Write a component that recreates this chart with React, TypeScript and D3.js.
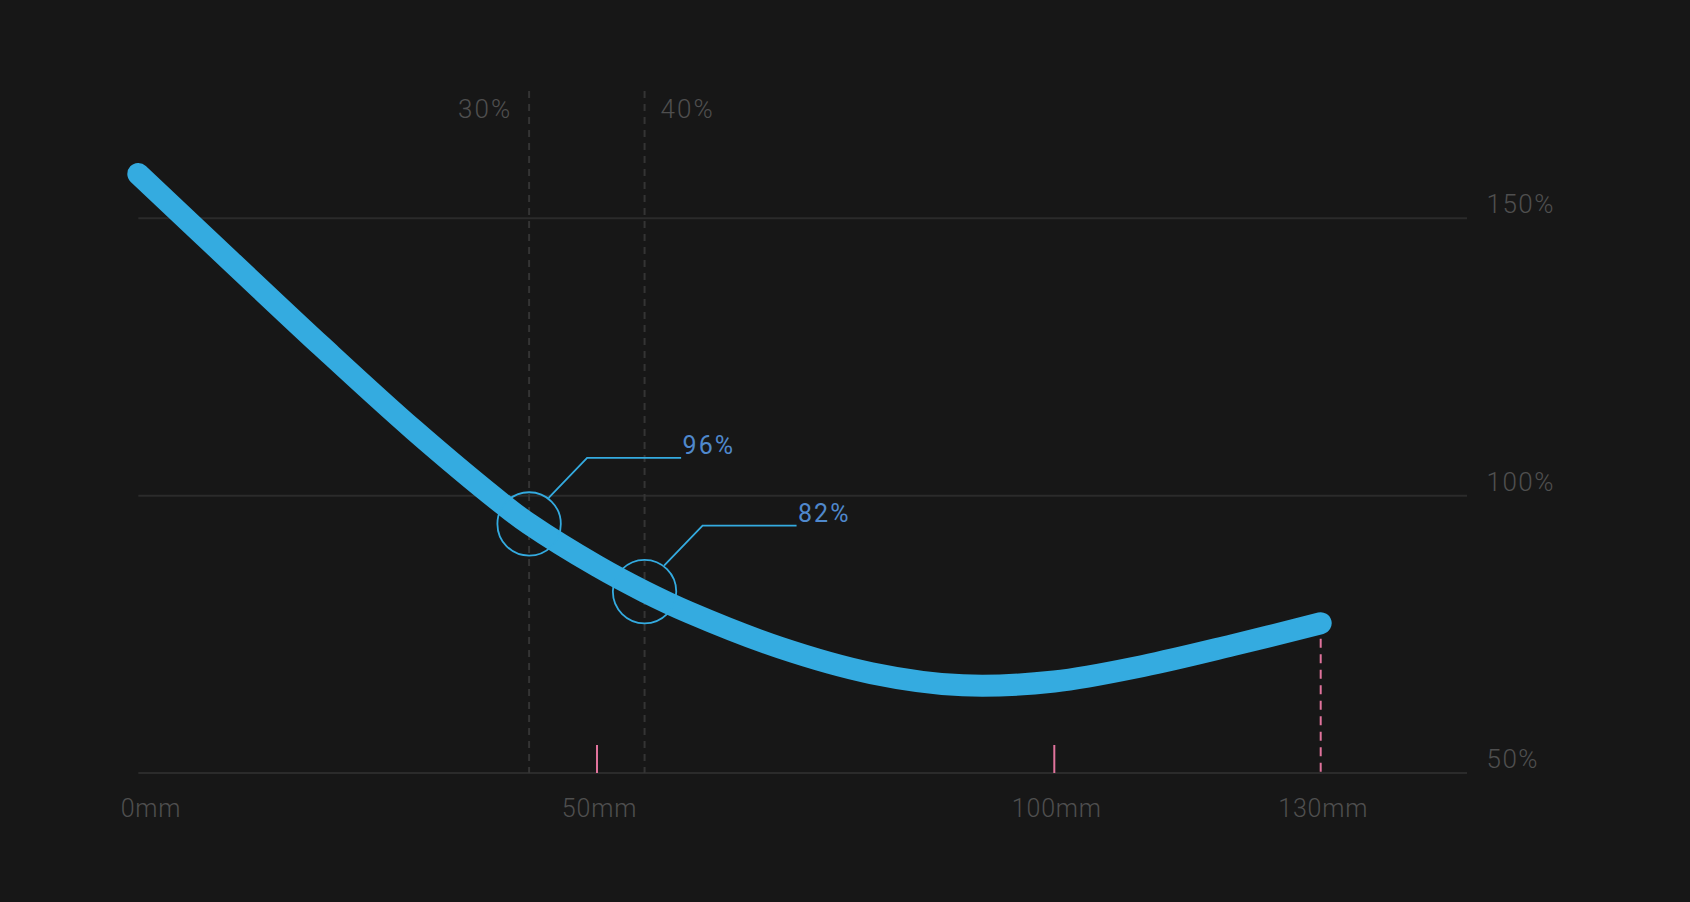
import React from "react";
import * as d3 from "d3";

// ---- data ----
const xTicks = [0, 50, 100, 130];
const xTickLabels = ["0mm", "50mm", "100mm", "130mm"];
const yTicks = [50, 100, 150];
const yTickLabels = ["50%", "100%", "150%"];
const distanceMm = [0, 10, 20, 30, 40, 42.6, 50, 55.2, 60, 70, 80, 90, 100, 110, 120, 130];
const ratioPct = [158.0, 142.4, 126.9, 111.9, 98.1, 94.9, 87.3, 82.7, 79.0, 72.6, 68.0, 65.8, 66.5, 69.3, 73.0, 77.0];
const markerMm = [42.6, 55.2];
const markerLabels = ["30%", "40%"];
const calloutLabels = ["96%", "82%"];
const pinkTickMm = [50, 100];
const endMm = 130;

const W = 1690;
const H = 902;
const plotLeft = 138.3;
const plotRight = 1467;

const BG = "#171717";
const GRID = "#2b2b2b";
const TXT = "#4f4f4f";
const BLUE = "#34abe0";
const LABEL_BLUE = "#4f88cc";
const PINK = "#e0739c";
const FONT = "Roboto, 'Open Sans', sans-serif";

export default function App() {
  const x = d3.scaleLinear().domain([0, 50, 100, 130]).range([plotLeft, 597, 1054.3, 1320.7]);
  const y = d3.scaleLinear().domain([50, 150]).range([773, 218.3]);

  const pts = distanceMm.map((d, i) => [d, ratioPct[i]] as [number, number]);
  const line = d3
    .line<[number, number]>()
    .x((d) => x(d[0]))
    .y((d) => y(d[1]))
    .curve(d3.curveCatmullRom.alpha(0.5));

  const valueAt = (mm: number) => {
    const i = distanceMm.indexOf(mm);
    return ratioPct[i];
  };

  const endY = y(valueAt(endMm));
  const r = 31.7;

  return (
    <svg
      width={W}
      height={H}
      style={{ position: "absolute", left: 0, top: 0, display: "block" }}
    >
      <rect x={0} y={0} width={W} height={H} fill={BG} />

      {/* horizontal grid */}
      {yTicks.map((t, i) => (
        <g key={"y" + t}>
          <line x1={plotLeft} x2={plotRight} y1={y(t)} y2={y(t)} stroke={GRID} strokeWidth={2} />
          <text
            x={1486.5}
            y={y(t) - 5}
            fill={TXT}
            fontFamily={FONT}
            fontWeight={300}
            fontSize={26}
            letterSpacing={1.5}
          >
            {yTickLabels[i]}
          </text>
        </g>
      ))}

      {/* vertical dashed markers */}
      {markerMm.map((m, i) => (
        <g key={"m" + m}>
          <line
            x1={x(m)}
            x2={x(m)}
            y1={91}
            y2={y(50)}
            stroke="#343434"
            strokeWidth={2}
            strokeDasharray="7,6"
          />
          <text
            x={i === 0 ? x(m) - 17 : x(m) + 16}
            y={118.3}
            textAnchor={i === 0 ? "end" : "start"}
            fill={TXT}
            fontFamily={FONT}
            fontWeight={300}
            fontSize={26}
            letterSpacing={2}
          >
            {markerLabels[i]}
          </text>
        </g>
      ))}

      {/* pink ticks */}
      {pinkTickMm.map((m) => (
        <line key={"p" + m} x1={x(m)} x2={x(m)} y1={y(50) - 28} y2={y(50)} stroke={PINK} strokeWidth={2} />
      ))}
      <line
        x1={x(endMm)}
        x2={x(endMm)}
        y1={endY}
        y2={y(50)}
        stroke={PINK}
        strokeWidth={2}
        strokeDasharray="9,6.5"
      />

      {/* x tick labels */}
      {xTicks.map((t, i) => (
        <text
          key={"x" + t}
          x={i === 0 ? x(t) - 17.6 : x(t) + 2.5}
          y={816.7}
          textAnchor={i === 0 ? "start" : "middle"}
          fill={TXT}
          fontFamily={FONT}
          fontWeight={300}
          fontSize={25}
          letterSpacing={0.8}
        >
          {xTickLabels[i]}
        </text>
      ))}

      {/* curve */}
      <path
        d={line(pts) || ""}
        fill="none"
        stroke={BLUE}
        strokeWidth={22}
        strokeLinecap="round"
        strokeLinejoin="round"
      />

      {/* callouts */}
      {markerMm.map((m, i) => {
        const cx = x(m);
        const cy = y(valueAt(m));
        const sx = cx + 19.5;
        const sy = cy - 26;
        const ex = cx + 58;
        const ey = cy - 66;
        const hx = cx + 152;
        return (
          <g key={"c" + m}>
            <circle cx={cx} cy={cy} r={r} fill="none" stroke={BLUE} strokeWidth={1.8} />
            <polyline
              points={`${sx},${sy} ${ex},${ey} ${hx},${ey}`}
              fill="none"
              stroke={BLUE}
              strokeWidth={1.8}
            />
            <text
              x={hx + 1.5}
              y={ey - 4}
              fill={LABEL_BLUE}
              fontFamily={FONT}
              fontWeight={400}
              fontSize={25}
              letterSpacing={2}
            >
              {calloutLabels[i]}
            </text>
          </g>
        );
      })}
    </svg>
  );
}
